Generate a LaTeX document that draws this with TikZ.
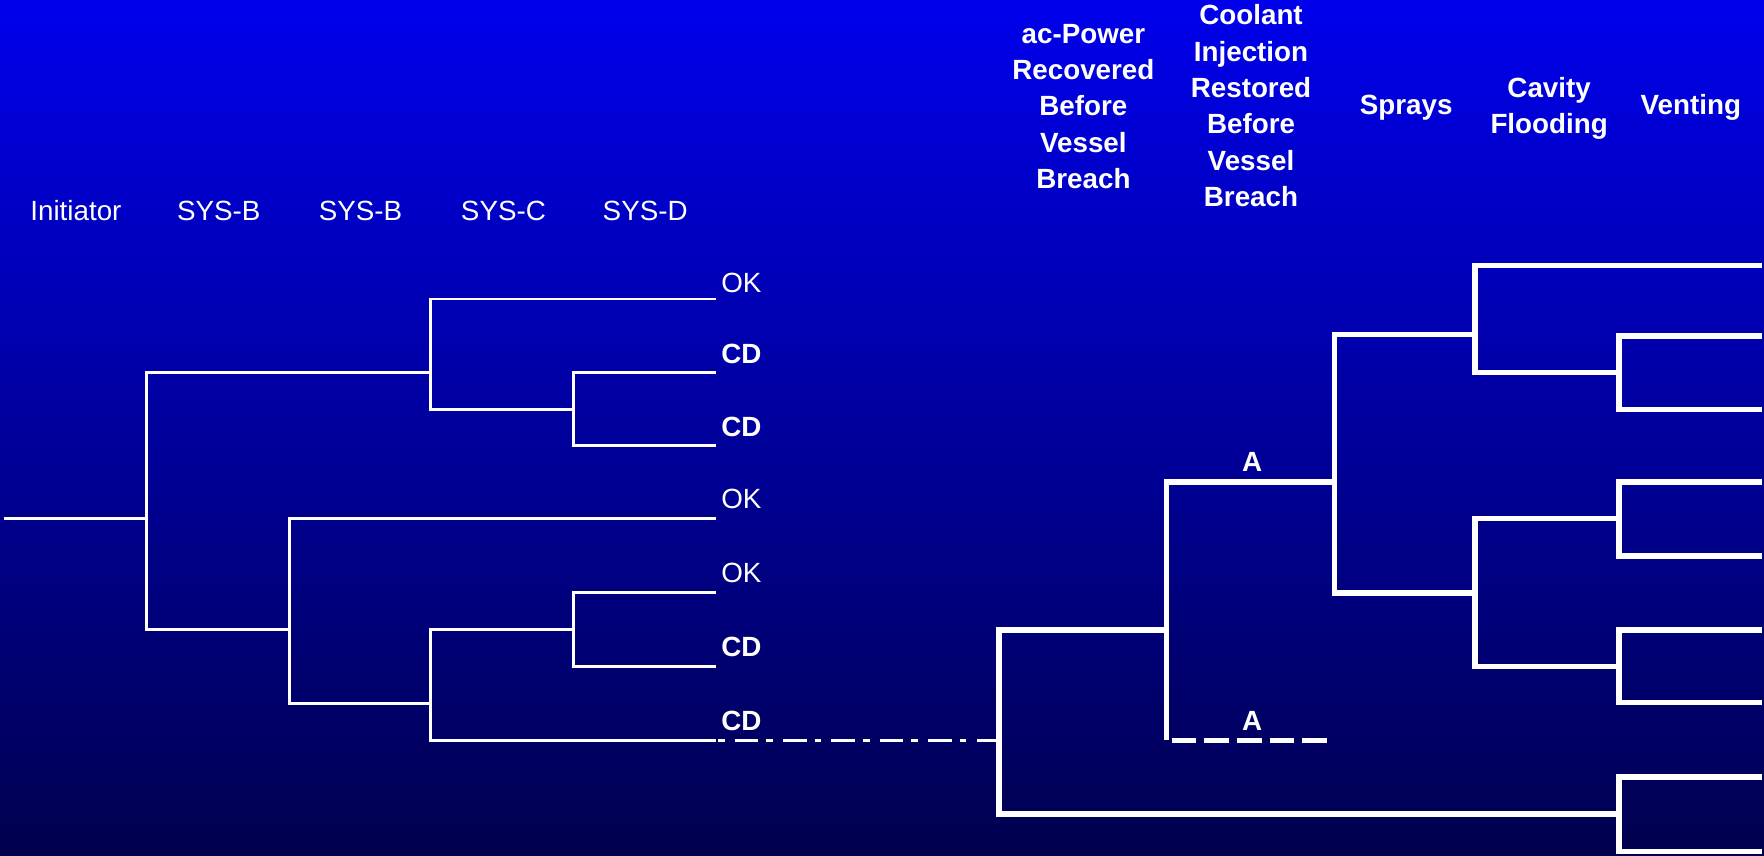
\documentclass[tikz,border=0pt]{standalone}
\usepackage{fontspec}
\setmainfont{Liberation Sans}
\definecolor{bgtop}{RGB}{0,0,236}
\definecolor{bgbot}{RGB}{0,0,78}
\begin{document}
\begin{tikzpicture}[x=1pt,y=-1pt,
  thinline/.style={draw=white, line width=2.6pt},
  thickline/.style={draw=white, line width=4.9pt},
  hdr/.style={text=white, inner sep=0pt, anchor=base, font=\fontsize{24.7pt}{32.3pt}\selectfont},
  bhdr/.style={hdr, font=\fontsize{24.7pt}{32.3pt}\selectfont\bfseries},
  lbl/.style={text=white, inner sep=0pt, anchor=base west, font=\fontsize{24.7pt}{32.3pt}\selectfont},
  blbl/.style={lbl, font=\fontsize{24.7pt}{32.3pt}\selectfont\bfseries},
  albl/.style={text=white, inner sep=0pt, anchor=base, font=\fontsize{24.7pt}{32.3pt}\selectfont\bfseries}]
\useasboundingbox (0,0) rectangle (1568,760);
\shade[top color=bgtop, bottom color=bgbot] (0,0) rectangle (1568,760);

% headers
\node[hdr] (hInit) at (67.5,195.6) {Initiator};
\node[hdr] (hB1) at (194.5,195.6) {SYS-B};
\node[hdr] (hB2) at (320.5,195.6) {SYS-B};
\node[hdr] (hC) at (447.5,195.6) {SYS-C};
\node[hdr] (hD) at (573.5,195.6) {SYS-D};
\node[bhdr] (hAC) at (963,38.5) {\begin{tabular}[t]{@{}c@{}}ac-Power\\Recovered\\Before\\Vessel\\Breach\end{tabular}};
\node[bhdr] (hCI) at (1112,22.2) {\begin{tabular}[t]{@{}c@{}}Coolant\\Injection\\Restored\\Before\\Vessel\\Breach\end{tabular}};
\node[bhdr] (hSp) at (1250,102.2) {Sprays};
\node[bhdr] (hCF) at (1377,86.8) {\begin{tabular}[t]{@{}c@{}}Cavity\\Flooding\end{tabular}};
\node[bhdr] (hV) at (1503,102.2) {Venting};

% left tree points
\coordinate (a0) at (3.6,461);
\coordinate (a1) at (130,461);
\coordinate (b1) at (383,331.5);
\coordinate (c1) at (510,364.4);
\coordinate (b2) at (257,559.5);
\coordinate (c2) at (383,625);
\coordinate (d2) at (510,559.5);
\coordinate (o1) at (636,265.8);
\coordinate (o2) at (636,331.5);
\coordinate (o3) at (636,396);
\coordinate (o4) at (636,461);
\coordinate (o5) at (636,526.5);
\coordinate (o6) at (636,592.5);
\coordinate (o7) at (636,658);

\draw[thinline] (a0) -- (a1);
\draw[thinline] (a1) |- (b1);
\draw[thinline] (a1) |- (b2);
\draw[thinline] (b1) |- (o1);
\draw[thinline] (b1) |- (c1);
\draw[thinline] (c1) |- (o2);
\draw[thinline] (c1) |- (o3);
\draw[thinline] (b2) |- (o4);
\draw[thinline] (b2) |- (c2);
\draw[thinline] (c2) |- (d2);
\draw[thinline] (c2) |- (o7);
\draw[thinline] (d2) |- (o5);
\draw[thinline] (d2) |- (o6);

% leaf labels
\node[lbl] (l1) at (641,260) {OK};
\node[blbl] (l2) at (641,323) {CD};
\node[blbl] (l3) at (641,388) {CD};
\node[lbl] (l4) at (641,451.8) {OK};
\node[lbl] (l5) at (641,517.6) {OK};
\node[blbl] (l6) at (641,583.6) {CD};
\node[blbl] (l7) at (641,649) {CD};

% right tree points
\coordinate (e0) at (888,658);
\coordinate (f1) at (1037,560);
\coordinate (g1) at (1186,428.5);
\coordinate (fA) at (1037,658);
\coordinate (gA) at (1186,658);
\coordinate (h1) at (1311,297.5);
\coordinate (i1) at (1439,331);
\coordinate (h2) at (1311,527);
\coordinate (i2) at (1439,461);
\coordinate (i3) at (1439,592.5);
\coordinate (i4) at (1439,723.5);
\coordinate (r1) at (1566,236);
\coordinate (r2) at (1566,298.5);
\coordinate (r3) at (1566,364);
\coordinate (r4) at (1566,428.5);
\coordinate (r5) at (1566,494);
\coordinate (r6) at (1566,560);
\coordinate (r7) at (1566,624.5);
\coordinate (r8) at (1566,690.6);
\coordinate (r9) at (1566,756.7);

\draw[thinline, dash pattern=on 21pt off 7pt on 6pt off 9pt, dash phase=26pt] (o7) -- (e0);

\draw[thickline] (e0) |- (f1);
\draw[thickline] (e0) |- (i4);
\draw[thickline] (f1) |- (g1);
\draw[thickline] (f1) -- (fA);
\draw[thickline, dash pattern=on 22pt off 7pt, dash phase=24.5pt] (fA) -- (gA);
\draw[thickline] (g1) |- (h1);
\draw[thickline] (g1) |- (h2);
\draw[thickline] (h1) |- (r1);
\draw[thickline] (h1) |- (i1);
\draw[thickline] (i1) |- (r2);
\draw[thickline] (i1) |- (r3);
\draw[thickline] (h2) |- (i2);
\draw[thickline] (h2) |- (i3);
\draw[thickline] (i2) |- (r4);
\draw[thickline] (i2) |- (r5);
\draw[thickline] (i3) |- (r6);
\draw[thickline] (i3) |- (r7);
\draw[thickline] (i4) |- (r8);
\draw[thickline] (i4) |- (r9);

\node[albl] (aUp) at (1113,419) {A};
\node[albl] (aLo) at (1113,649) {A};
\end{tikzpicture}
\end{document}
